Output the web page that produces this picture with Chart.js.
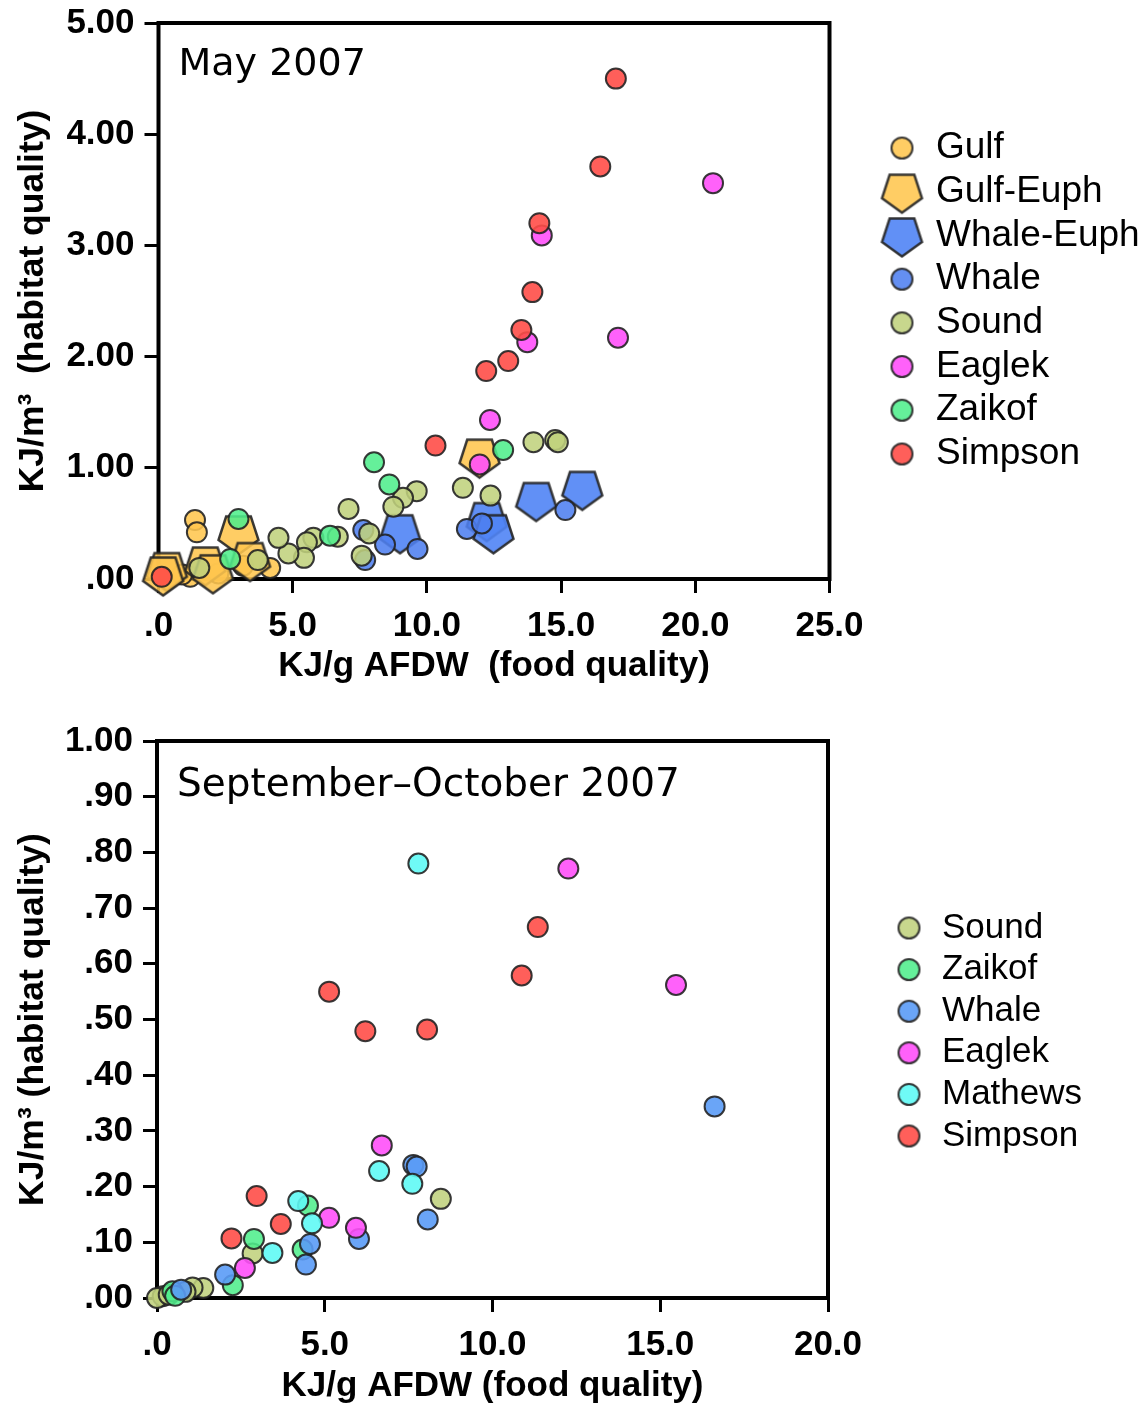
<!DOCTYPE html>
<html><head><meta charset="utf-8">
<script src="https://cdn.jsdelivr.net/npm/chart.js@4.4.1/dist/chart.umd.min.js"></script>
<style>
html,body{margin:0;padding:0;background:#fff;}
#c1{position:absolute;left:0;top:0;}
#c2{position:absolute;left:0;top:700px;}
</style>
</head><body>
<canvas id="c1" width="1147" height="700"></canvas>
<canvas id="c2" width="1147" height="705"></canvas>
<script>
// ---------------- DATA: May 2007 ----------------
const mayCategories = ['Gulf','Gulf-Euph','Whale-Euph','Whale','Sound','Eaglek','Zaikof','Simpson'];
const mayGulf = [[1.36,0.53],[1.43,0.42],[4.16,0.10],[2.23,0.05],[1.18,0.02],[0.88,0.04],[3.15,0.12]];
const mayGulfEuph = [[11.96,1.10],[2.98,0.41],[3.41,0.17],[1.74,0.13],[0.31,0.08],[2.03,0.06],[0.17,0.04]];
const mayWhaleEuph = [[14.07,0.71],[15.79,0.81],[12.23,0.53],[12.48,0.42],[9.00,0.42]];
const mayWhale = [[15.16,0.62],[11.49,0.45],[12.05,0.50],[9.65,0.27],[8.44,0.31],[7.63,0.44],[7.70,0.17]];
const maySound = [[13.97,1.23],[14.78,1.25],[14.88,1.23],[11.34,0.82],[12.37,0.75],[9.62,0.79],[9.11,0.73],[8.75,0.65],[7.08,0.63],[7.85,0.41],[7.57,0.21],[6.68,0.38],[5.77,0.37],[5.53,0.33],[5.42,0.19],[4.84,0.23],[4.47,0.37],[3.70,0.17],[1.52,0.10]];
const mayEaglek = [[20.66,3.56],[14.28,3.09],[17.12,2.17],[13.74,2.13],[12.35,1.43],[11.97,1.03]];
const mayZaikof = [[12.84,1.16],[8.03,1.05],[8.60,0.85],[6.39,0.39],[2.98,0.54],[2.67,0.18]];
const maySimpson = [[17.04,4.50],[16.46,3.71],[14.19,3.20],[13.93,2.58],[13.52,2.24],[13.03,1.96],[12.21,1.87],[10.32,1.20],[0.12,0.02]];
const mayXTickLabels = ['.0','5.0','10.0','15.0','20.0','25.0'];
const mayYTickLabels = ['.00','1.00','2.00','3.00','4.00','5.00'];

// ---------------- DATA: September-October 2007 ----------------
const sepCategories = ['Sound','Zaikof','Whale','Eaglek','Mathews','Simpson'];
const sepSound = [[8.46,0.178],[2.85,0.080],[1.38,0.018],[1.06,0.019],[0.85,0.011],[0.17,0.003],[0.00,0.000],[0.35,0.006]];
const sepZaikof = [[4.50,0.166],[2.89,0.106],[4.34,0.087],[2.26,0.023],[0.46,0.012],[0.54,0.004]];
const sepWhale = [[16.62,0.344],[7.64,0.239],[7.74,0.236],[8.07,0.141],[6.02,0.106],[4.56,0.097],[4.44,0.060],[2.03,0.042],[0.72,0.015]];
const sepEaglek = [[12.26,0.771],[15.47,0.562],[6.70,0.274],[5.13,0.144],[5.93,0.126],[2.62,0.054]];
const sepMathews = [[7.79,0.780],[6.62,0.228],[7.61,0.205],[4.21,0.174],[4.62,0.134],[3.44,0.081]];
const sepSimpson = [[11.35,0.666],[10.87,0.579],[5.13,0.550],[6.21,0.479],[8.05,0.482],[2.97,0.183],[3.69,0.133],[2.22,0.107]];
const sepXTickLabels = ['.0','5.0','10.0','15.0','20.0'];
const sepYTickLabels = ['.00','.10','.20','.30','.40','.50','.60','.70','.80','.90','1.00'];

// ---------------- STYLE ----------------
const FONT = "'Liberation Sans', Arial, Helvetica, sans-serif";
const STROKE = 'rgba(35,35,35,0.9)';
const FILL = {
  'Gulf': 'rgba(255,198,78,0.88)',
  'Gulf-Euph': 'rgba(255,198,78,0.88)',
  'Whale-Euph': 'rgba(80,132,245,0.9)',
  'Whale': 'rgba(78,128,240,0.88)',
  'Sound': 'rgba(192,210,125,0.88)',
  'Eaglek': 'rgba(255,80,250,0.9)',
  'Zaikof': 'rgba(80,238,140,0.88)',
  'Simpson': 'rgba(255,78,72,0.9)',
  'Mathews': 'rgba(95,250,245,0.9)'
};
const FILL_SEP = Object.assign({}, FILL, {'Whale': 'rgba(90,155,246,0.9)'});

function circleImg(r, fill) {
  const lw = 2, s = Math.ceil(2 * r + lw + 4);
  const c = document.createElement('canvas'); c.width = c.height = s;
  const g = c.getContext('2d');
  g.beginPath(); g.arc(s / 2, s / 2, r, 0, Math.PI * 2);
  g.fillStyle = fill; g.fill(); g.lineWidth = lw; g.strokeStyle = STROKE; g.stroke();
  return c;
}
function pentImg(R, fill) {
  const lw = 2.5, s = Math.ceil(2 * R + lw + 4);
  const c = document.createElement('canvas'); c.width = c.height = s;
  const g = c.getContext('2d');
  const cx = s / 2, cy = s / 2;
  g.beginPath();
  for (let k = 0; k < 5; k++) {
    const a = Math.PI / 2 + k * 2 * Math.PI / 5;
    const px = cx + R * Math.cos(a), py = cy + R * Math.sin(a);
    if (k === 0) g.moveTo(px, py); else g.lineTo(px, py);
  }
  g.closePath();
  g.fillStyle = fill; g.fill(); g.lineJoin = 'miter'; g.lineWidth = lw; g.strokeStyle = STROKE; g.stroke();
  return c;
}

const toXY = arr => arr.map(p => ({x: p[0], y: p[1]}));

function makeDatasets(cats, series, fills, pentSet) {
  const n = cats.length;
  return cats.map((name, i) => {
    const pent = pentSet.includes(name);
    return {
      label: name,
      data: toXY(series[i]),
      pointStyle: pent ? pentImg(21, fills[name]) : 'circle',
      pointRadius: pent ? 21 : 10,
      pointHoverRadius: pent ? 21 : 10,
      backgroundColor: fills[name],
      borderColor: STROKE,
      borderWidth: 2,
      clip: false,
      order: n - i
    };
  });
}

const framePlugin = {
  id: 'frame',
  beforeDatasetsDraw(chart) {
    const a = chart.chartArea, ctx = chart.ctx;
    ctx.save(); ctx.lineWidth = 4; ctx.strokeStyle = '#000'; ctx.lineJoin = 'miter';
    ctx.strokeRect(a.left, a.top, a.right - a.left, a.bottom - a.top);
    ctx.restore();
  }
};
const panelTitlePlugin = {
  id: 'panelTitle',
  afterDraw(chart, args, opts) {
    const a = chart.chartArea, ctx = chart.ctx;
    ctx.save(); ctx.font = opts.font; ctx.fillStyle = '#000'; ctx.textBaseline = 'alphabetic'; ctx.textAlign = 'left';
    ctx.fillText(opts.text, a.left + opts.dx, a.top + opts.dy);
    ctx.restore();
  }
};

function buildChart(canvas, cfg) {
  const legendImgs = cfg.categories.map(name => cfg.pentSet.includes(name) ? pentImg(21, cfg.fills[name]) : circleImg(10.5, cfg.fills[name]));
  const chart = new Chart(canvas, {
    type: 'scatter',
    data: { datasets: makeDatasets(cfg.categories, cfg.series, cfg.fills, cfg.pentSet) },
    plugins: [framePlugin, panelTitlePlugin],
    options: {
      responsive: false, animation: false, devicePixelRatio: 1,
      layout: { padding: { left: 0, right: cfg.padRight, top: cfg.area.top, bottom: 0 } },
      plugins: {
        tooltip: { enabled: false },
        panelTitle: { text: cfg.title, font: cfg.titleFont, dx: 20, dy: cfg.titleDy },
        legend: {
          position: 'right', align: 'center', fullSize: false, maxWidth: cfg.legendW,
          title: { display: cfg.legendShift > 0, text: ' ', font: { size: 5, lineHeight: 1 }, padding: { top: cfg.legendShift / 2 - 2.5, bottom: cfg.legendShift / 2 - 2.5 } },
          labels: {
            usePointStyle: true, pointStyleWidth: cfg.legendBoxW, padding: cfg.legendPad,
            color: '#000', font: { family: FONT, size: cfg.legendFont },
            generateLabels: (ch) => ch.data.datasets.map((ds, i) => ({
              text: ds.label, pointStyle: legendImgs[i], datasetIndex: i, hidden: false,
              lineWidth: 0, fillStyle: 'rgba(0,0,0,0)', strokeStyle: 'rgba(0,0,0,0)', fontColor: '#000'
            }))
          }
        }
      },
      scales: {
        x: {
          type: 'linear', position: 'bottom', min: 0, max: cfg.xMax,
          afterFit: s => { s.height = cfg.xHeight; s.paddingLeft = 0; s.paddingRight = 0; },
          afterBuildTicks: s => { s.ticks = cfg.xTicks.map((t, i) => ({ value: i * cfg.xStep })); },
          ticks: { color: '#000', font: { family: FONT, size: 35, weight: 'bold' }, padding: 12, maxRotation: 0,
                   callback: (v, i) => cfg.xTicks[i] },
          grid: { display: true, drawOnChartArea: false, drawTicks: true, tickLength: 14, tickWidth: 3, tickColor: '#000' },
          border: { display: false },
          title: { display: true, text: cfg.xTitle, color: '#000', font: { family: FONT, size: 35, weight: 'bold', lineHeight: 1 }, padding: { top: 0, bottom: cfg.xTitlePad } }
        },
        y: {
          type: 'linear', position: 'left', min: 0, max: cfg.yMax,
          afterFit: s => { s.width = cfg.area.left; s.paddingTop = 0; s.paddingBottom = 0; },
          afterBuildTicks: s => { s.ticks = cfg.yTicks.map((t, i) => ({ value: i * cfg.yStep })); },
          ticks: { color: '#000', font: { family: FONT, size: 35, weight: 'bold' }, padding: 10,
                   callback: (v, i) => cfg.yTicks[i] },
          grid: { display: true, drawOnChartArea: false, drawTicks: true, tickLength: 14, tickWidth: 3, tickColor: '#000' },
          border: { display: false },
          title: { display: true, text: cfg.yTitle, color: '#000', font: { family: FONT, size: 35.5, weight: 'bold', lineHeight: 1 }, padding: { top: 15.5, bottom: 0 } }
        },
        spacer: {
          type: 'linear', position: 'right', display: true,
          afterFit: s => { s.width = cfg.spacer; s.paddingTop = 0; s.paddingBottom = 0; },
          ticks: { display: false }, grid: { display: false }, border: { display: false }
        }
      }
    }
  });
  // safety correction so the plot frame sits where intended
  const d = chart.chartArea.right - cfg.area.right;
  if (Math.abs(d) > 0.1) { chart.options.layout.padding.right = Math.max(0, chart.options.layout.padding.right + d); chart.update('none'); }
  return chart;
}

buildChart(document.getElementById('c1'), {
  categories: mayCategories,
  series: [mayGulf, mayGulfEuph, mayWhaleEuph, mayWhale, maySound, mayEaglek, mayZaikof, maySimpson],
  fills: FILL, pentSet: ['Gulf-Euph', 'Whale-Euph'],
  title: 'May 2007', titleDy: 52, titleFont: "38px 'DejaVu Sans', sans-serif",
  area: { left: 158.5, right: 829.5, top: 21.5 },
  xHeight: 700 - 579, padRight: 0.2, spacer: 50.3, legendW: 267,
  xMax: 25, xStep: 5, xTicks: mayXTickLabels,
  yMax: 5, yStep: 1, yTicks: mayYTickLabels,
  xTitle: 'KJ/g AFDW  (food quality)', xTitlePad: 16.5,
  yTitle: 'KJ/m\u00B3  (habitat quality)',
  legendFont: 37, legendPad: 6.7, legendBoxW: 31, legendShift: 0
});

buildChart(document.getElementById('c2'), {
  categories: sepCategories,
  series: [sepSound, sepZaikof, sepWhale, sepEaglek, sepMathews, sepSimpson],
  fills: FILL_SEP, pentSet: [],
  title: 'September\u2013October 2007', titleDy: 55, titleFont: "39px 'DejaVu Sans', sans-serif",
  area: { left: 157, right: 828, top: 41 },
  xHeight: 705 - 598, padRight: 0.1, spacer: 58.9, legendW: 260,
  xMax: 20, xStep: 5, xTicks: sepXTickLabels,
  yMax: 1, yStep: 0.1, yTicks: sepYTickLabels,
  xTitle: 'KJ/g AFDW (food quality)', xTitlePad: 1.5,
  yTitle: 'KJ/m\u00B3 (habitat quality)',
  legendFont: 35, legendPad: 6.6, legendBoxW: 31, legendShift: 25
});
</script>
</body></html>
